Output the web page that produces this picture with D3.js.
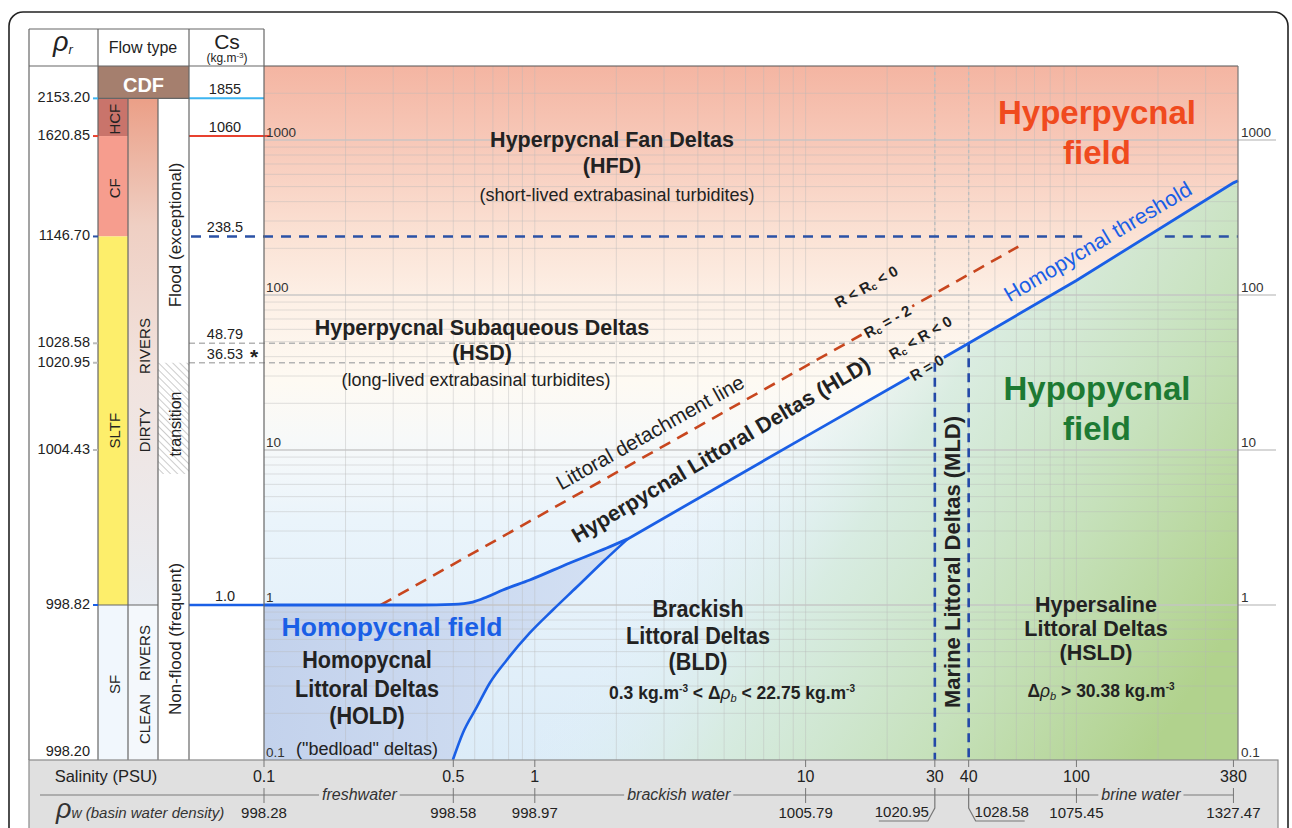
<!DOCTYPE html>
<html>
<head>
<meta charset="utf-8">
<title>Delta classification diagram</title>
<script src="https://cdn.jsdelivr.net/npm/d3@7/dist/d3.min.js"></script>
<style>
html,body{margin:0;padding:0;background:#fff;}
svg{display:block;font-family:"Liberation Sans",Arial,Helvetica,sans-serif;}
</style>
</head>
<body>
<svg id="chart" width="1292" height="828"></svg>
<script>
// ---------------- data ----------------
const salinityTicks = [0.1, 0.5, 1, 10, 30, 40, 100, 380];
const salinityLabels = ["0.1", "0.5", "1", "10", "30", "40", "100", "380"];
const basinDensityLabels = ["998.28", "998.58", "998.97", "1005.79", "1020.95", "1028.58", "1075.45", "1327.47"];
const waterTypeNames = ["freshwater", "brackish water", "brine water"];
const waterTypeSalinity = [0.225, 3.4, 173];

const csTicks = [0.1, 1, 10, 100, 1000];
const csTickLabels = ["0.1", "1", "10", "100", "1000"];
const csMarks = [1855, 1060, 238.5, 48.79, 36.53, 1.0];
const csMarkLabels = ["1855", "1060", "238.5", "48.79", "36.53", "1.0"];
const rhoRiverCs = [1855, 1060, 238.5, 48.79, 36.53, 10, 1, 0.1];
const rhoRiverLabels = ["2153.20", "1620.85", "1146.70", "1028.58", "1020.95", "1004.43", "998.82", "998.20"];

const flowNames = ["CDF", "HCF", "CF", "SLTF", "SF"];
const flowTop = [3000, 1855, 1060, 238.5, 1];
const flowBottom = [1855, 1060, 238.5, 1, 0.1];
const riverTop = [1855, 1];
const riverBottom = [1, 0.1];
const transitionCs = [36.53, 7];

// homopycnal threshold (salinity PSU, Cs kg/m3)
const thresholdS = [0.1, 0.376, 0.498, 0.59, 0.665, 0.762, 0.958, 1.346, 1.844, 2.204, 10, 30, 40, 100, 380, 395];
const thresholdCs = [1.0, 1.0, 1.01, 1.045, 1.126, 1.25, 1.45, 1.866, 2.33, 2.67, 12.19, 36.53, 48.79, 124.1, 528.8, 545];
// lower limit of the homopycnal littoral deltas field
const holdLowerS = [0.498, 0.542, 0.611, 0.682, 0.788, 0.958, 1.165, 1.429, 1.782, 2.204];
const holdLowerCs = [0.1, 0.149, 0.22, 0.314, 0.442, 0.66, 0.928, 1.306, 1.894, 2.67];
// littoral detachment line
const detachS = [0.27, 61];
const detachCs = [1, 205];
// marine littoral deltas limits
const mldS = [30, 40];
const mldCs = [36.53, 48.79];
const hfdLimitGapS = [105, 212];

// ---------------- layout ----------------
const X0 = 264, X1 = 1238, Y0 = 66, Y1 = 760;
const TL = 29, TT = 29, C1 = 98, C2 = 128, C3 = 158, C4 = 189, BR = 1278;
const FONT_COLOR = "#222";
const SMAX = 395;

const svg = d3.select("#chart");
const defs = svg.append("defs");
const x = d3.scaleLog().domain([0.1, SMAX]).range([X0, X1]);
const y = d3.scaleLog().domain([0.1, 3000]).range([Y1, Y0]);

function grad(id, a, stops) {
  const g = defs.append("linearGradient").attr("id", id).attr("gradientUnits", "userSpaceOnUse");
  Object.entries(a).forEach(([k, v]) => g.attr(k, v));
  stops.forEach(s => g.append("stop").attr("offset", s[0]).attr("stop-color", s[1]).attr("stop-opacity", s[2] == null ? 1 : s[2]));
}
const fy = v => (v - Y0) / (Y1 - Y0);
grad("bgV", {x1: 0, y1: Y0, x2: 0, y2: Y1}, [
  [0, "#f4b5a2"], [fy(140), "#f7c8b8"], [fy(240), "#fbe3d6"], [fy(300), "#fdf0e6"],
  [fy(380), "#fefaf3"], [fy(440), "#f7f9f9"], [fy(520), "#eaf4fb"], [1, "#dcecf8"]]);
grad("gGreen", {x1: 800, y1: 330, x2: 1238, y2: 620}, [
  [0, "#e2f1fa", 0], [0.3, "#d6ebdf", 0.9], [0.65, "#c6e1bb", 1], [1, "#b1d28d", 1]]);
grad("gHold", {x1: 264, y1: 0, x2: 640, y2: 0}, [[0, "#c3d2ec"], [1, "#d4e1f4"]]);
grad("gRiver", {x1: 0, y1: y(1855), x2: 0, y2: y(1)}, [
  [0, "#eb9f87"], [0.25, "#efcfc3"], [0.55, "#f1e3de"], [1, "#e9edf3"]]);

const hatch = defs.append("pattern").attr("id", "hatch").attr("patternUnits", "userSpaceOnUse")
  .attr("width", 5).attr("height", 5).attr("patternTransform", "rotate(-45)");
hatch.append("line").attr("x1", 0).attr("y1", 0).attr("x2", 0).attr("y2", 5).attr("stroke", "#9a9a9a").attr("stroke-width", 1);

const angThr = Math.atan2(y(528.8) - y(12.19), x(380) - x(10)) * 180 / Math.PI;
const angDet = Math.atan2(y(detachCs[1]) - y(detachCs[0]), x(detachS[1]) - x(detachS[0])) * 180 / Math.PI;

function gapMask(id, cx, cy, w, h, ang) {
  const m = defs.append("mask").attr("id", id).attr("maskUnits", "userSpaceOnUse")
    .attr("x", 0).attr("y", 0).attr("width", 1292).attr("height", 828);
  m.append("rect").attr("width", 1292).attr("height", 828).attr("fill", "#fff");
  m.append("rect").attr("x", -w / 2).attr("y", -h / 2).attr("width", w).attr("height", h)
    .attr("fill", "#000").attr("transform", `translate(${cx},${cy}) rotate(${ang})`);
}
const rZero = [x(28), y(34)];
const rcLab = [x(20), y(68)];
gapMask("mThr", rZero[0], rZero[1], 40, 18, angThr);
gapMask("mDet", rcLab[0], rcLab[1], 58, 18, angDet);

// ---------------- plot background ----------------
svg.append("rect").attr("x", X0).attr("y", Y0).attr("width", X1 - X0).attr("height", Y1 - Y0).attr("fill", "url(#bgV)");

const lineMono = d3.line().x(d => x(d[0])).y(d => y(d[1])).curve(d3.curveMonotoneX);
const lineLin = d3.line().x(d => x(d[0])).y(d => y(d[1]));
const thrPts = thresholdS.map((s, i) => [s, thresholdCs[i]]);
const lowPts = holdLowerS.map((s, i) => [s, holdLowerCs[i]]);
const pathCurve = lineMono(thrPts.slice(0, 10));
const thrPath = pathCurve + lineLin(thrPts.slice(9)).replace(/^M/, "L");
const lowPath = lineMono(lowPts);

svg.append("path").attr("d", thrPath + `L${X1},${Y1}L${X0},${Y1}Z`).attr("fill", "url(#gGreen)");
svg.append("path").attr("d", pathCurve + lineMono(lowPts.slice().reverse()).replace(/^M/, "L") + `L${x(0.1)},${y(0.1)}Z`)
  .attr("fill", "url(#gHold)");

// ---------------- grid ----------------
const grid = svg.append("g");
x.ticks().filter(v => v > 0.1 && v < 380).forEach(v => {
  grid.append("line").attr("x1", x(v)).attr("x2", x(v)).attr("y1", Y0).attr("y2", Y1)
    .attr("stroke", "#b8b8b8").attr("stroke-opacity", 0.45).attr("stroke-width", 0.9);
});
y.ticks().filter(v => v > 0.1 && v < 3000).forEach(v => {
  const major = csTicks.includes(v);
  grid.append("line").attr("x1", X0).attr("x2", major ? BR - 2 : X1).attr("y1", y(v)).attr("y2", y(v))
    .attr("stroke", major ? "#c4c4c4" : "#b8b8b8").attr("stroke-opacity", major ? 0.9 : 0.45)
    .attr("stroke-width", major ? 1.6 : 0.9);
});

// ---------------- reference lines ----------------
const lines = svg.append("g");
mldS.forEach((s, i) => {
  lines.append("line").attr("x1", C4).attr("x2", x(s)).attr("y1", y(mldCs[i])).attr("y2", y(mldCs[i]))
    .attr("stroke", "#b4b4b4").attr("stroke-width", 1.6).attr("stroke-dasharray", "6,4");
  lines.append("line").attr("x1", x(s)).attr("x2", x(s)).attr("y1", Y0).attr("y2", y(mldCs[i]))
    .attr("stroke", "#bdbdbd").attr("stroke-width", 1.4).attr("stroke-dasharray", "3,3");
});
const markStyle = [
  {c: "#3db5f0", w: 2, d: null, end: X0},
  {c: "#e8412f", w: 2, d: null, end: X0 + 6},
  {c: null}, {c: null}, {c: null},
  {c: "#1a5fe6", w: 2.6, d: null, end: X0}];
csMarks.forEach((v, i) => {
  const st = markStyle[i];
  if (!st.c) return;
  lines.append("line").attr("x1", C4).attr("x2", st.end).attr("y1", y(v)).attr("y2", y(v))
    .attr("stroke", st.c).attr("stroke-width", st.w);
});
// HFD limit (238.5) dashed blue line with a gap for the label
[[C4 + 2, x(hfdLimitGapS[0])], [x(hfdLimitGapS[1]), X1]].forEach(seg => {
  lines.append("line").attr("x1", seg[0]).attr("x2", seg[1]).attr("y1", y(csMarks[2])).attr("y2", y(csMarks[2]))
    .attr("stroke", "#2b52a6").attr("stroke-width", 2.6).attr("stroke-dasharray", "10,8");
});
// littoral detachment line
lines.append("path").attr("d", lineLin(detachS.map((s, i) => [s, detachCs[i]])))
  .attr("fill", "none").attr("stroke", "#c8461e").attr("stroke-width", 2.6).attr("stroke-dasharray", "12,8")
  .attr("mask", "url(#mDet)");
// MLD verticals
mldS.forEach((s, i) => {
  lines.append("line").attr("x1", x(s)).attr("x2", x(s)).attr("y1", y(mldCs[i])).attr("y2", Y1)
    .attr("stroke", "#2349a8").attr("stroke-width", 2.6).attr("stroke-dasharray", "9,6");
});
// threshold and HOLD limit
lines.append("path").attr("d", lowPath).attr("fill", "none").attr("stroke", "#1a5fe6").attr("stroke-width", 2.6);
lines.append("path").attr("d", thrPath).attr("fill", "none").attr("stroke", "#1a5fe6").attr("stroke-width", 2.8)
  .attr("mask", "url(#mThr)");

// ---------------- text helper ----------------
function T(parent, px, py, str, o) {
  const d = Object.assign({size: 16, anchor: "middle", fill: FONT_COLOR, weight: "normal"}, o || {});
  const t = parent.append("text").attr("font-size", d.size).attr("text-anchor", d.anchor)
    .attr("fill", d.fill).attr("font-weight", d.weight);
  if (d.style) t.attr("font-style", d.style);
  if (d.ls) t.attr("letter-spacing", d.ls);
  if (d.baseline) t.attr("dominant-baseline", d.baseline);
  if (d.rotate != null || d.sx != null) {
    t.attr("x", 0).attr("y", 0)
      .attr("transform", `translate(${px},${py})` + (d.rotate != null ? ` rotate(${d.rotate})` : "") + (d.sx != null ? ` scale(${d.sx},1)` : ""));
  } else {
    t.attr("x", px).attr("y", py);
  }
  if (str) t.text(str);
  return t;
}
function sp(t, s, o) {
  const e = t.append("tspan").text(s);
  if (o) Object.entries(o).forEach(([k, v]) => e.attr(k, v));
  return e;
}

// ---------------- plot labels ----------------
const lab = svg.append("g");
csTicks.forEach((v, i) => {
  T(lab, X0 + 2, y(v) - 3, csTickLabels[i], {size: 13.5, anchor: "start", fill: "#333"});
  T(lab, X1 + 3, y(v) - 3, csTickLabels[i], {size: 13.5, anchor: "start", fill: "#333"});
});

T(lab, 612, 147, "Hyperpycnal Fan Deltas", {size: 21.5, weight: "bold"});
T(lab, 612, 173, "(HFD)", {size: 21.5, weight: "bold"});
T(lab, 617, 201, "(short-lived extrabasinal turbidites)", {size: 18});

T(lab, 1097, 124, "Hyperpycnal", {size: 33, weight: "bold", fill: "#f04a1e"});
T(lab, 1097, 164, "field", {size: 33, weight: "bold", fill: "#f04a1e"});

T(lab, 482, 335, "Hyperpycnal Subaqueous Deltas", {size: 21.5, weight: "bold"});
T(lab, 482, 360, "(HSD)", {size: 21.5, weight: "bold"});
T(lab, 476, 386, "(long-lived extrabasinal turbidites)", {size: 18});

T(lab, 650, 432, "Littoral detachment line", {size: 20.5, rotate: angDet, baseline: "central"});
T(lab, 721, 450, "Hyperpycnal Littoral Deltas (HLD)", {size: 21.5, weight: "bold", rotate: angThr, baseline: "central"});
T(lab, 1098, 242, "Homopycnal threshold", {size: 21.5, fill: "#1a5fe6", rotate: angThr, baseline: "central"});

let t = T(lab, 866, 286, null, {size: 15, weight: "bold", rotate: angDet, baseline: "central"});
sp(t, "R < R"); sp(t, "c", {"font-size": 10, dy: 4}); sp(t, " < 0", {dy: -4});
t = T(lab, rcLab[0], rcLab[1], null, {size: 15, weight: "bold", rotate: angDet, baseline: "central"});
sp(t, "R"); sp(t, "c", {"font-size": 10, dy: 4}); sp(t, " = - 2", {dy: -4});
t = T(lab, 920, 337, null, {size: 15, weight: "bold", rotate: angThr, baseline: "central"});
sp(t, "R"); sp(t, "c", {"font-size": 10, dy: 4}); sp(t, " < R < 0", {dy: -4});
T(lab, rZero[0], rZero[1], "R = 0", {size: 15, weight: "bold", rotate: angThr, baseline: "central"});

T(lab, 1097, 400, "Hypopycnal", {size: 33, weight: "bold", fill: "#1d7a33"});
T(lab, 1097, 440, "field", {size: 33, weight: "bold", fill: "#1d7a33"});

T(lab, 952, 562, "Marine Littoral Deltas (MLD)", {size: 22, weight: "bold", rotate: -90, baseline: "central"});

T(lab, 392, 636, "Homopycnal field", {size: 26.5, weight: "bold", fill: "#1a5fe6"});
T(lab, 367, 668, "Homopycnal", {size: 24, weight: "bold", sx: 0.9});
T(lab, 367, 697, "Littoral Deltas", {size: 24, weight: "bold", sx: 0.9});
T(lab, 367, 724, "(HOLD)", {size: 24, weight: "bold", sx: 0.9});
T(lab, 367, 755, "(\"bedload\" deltas)", {size: 18});

T(lab, 698, 617, "Brackish", {size: 24, weight: "bold", sx: 0.9});
T(lab, 698, 644, "Littoral Deltas", {size: 24, weight: "bold", sx: 0.9});
T(lab, 698, 670, "(BLD)", {size: 24, weight: "bold", sx: 0.9});
t = T(lab, 732, 699, null, {size: 17.5, weight: "bold"});
sp(t, "0.3 kg.m"); sp(t, "-3", {"font-size": 10, dy: -7}); sp(t, " < \u0394", {dy: 7});
sp(t, "\u03c1", {"font-style": "italic", "font-weight": "normal"}); sp(t, "b", {"font-size": 11, "font-style": "italic", "font-weight": "normal", dy: 3});
sp(t, " < 22.75 kg.m", {dy: -3}); sp(t, "-3", {"font-size": 10, dy: -7});

T(lab, 1096, 612, "Hypersaline", {size: 21.5, weight: "bold"});
T(lab, 1096, 636, "Littoral Deltas", {size: 21.5, weight: "bold"});
T(lab, 1096, 660, "(HSLD)", {size: 21.5, weight: "bold"});
t = T(lab, 1101, 697, null, {size: 17.5, weight: "bold"});
sp(t, "\u0394"); sp(t, "\u03c1", {"font-style": "italic", "font-weight": "normal"});
sp(t, "b", {"font-size": 11, "font-style": "italic", "font-weight": "normal", dy: 3});
sp(t, " > 30.38 kg.m", {dy: -3}); sp(t, "-3", {"font-size": 10, dy: -7});

// ---------------- plot frame ----------------
svg.append("line").attr("x1", X0).attr("x2", X1).attr("y1", Y0).attr("y2", Y0).attr("stroke", "#555").attr("stroke-width", 1.2);
svg.append("line").attr("x1", X1).attr("x2", X1).attr("y1", Y0).attr("y2", Y1).attr("stroke", "#777").attr("stroke-width", 1.2);

// ---------------- left table ----------------
const tb = svg.append("g");
const flowFill = ["#a57f6e", "#c9746b", "#f69d8e", "#fdee6b", "#f1f7fd"];
flowNames.forEach((n, i) => {
  const x1 = i === 0 ? C4 : C2;
  tb.append("rect").attr("x", C1).attr("y", y(flowTop[i])).attr("width", x1 - C1)
    .attr("height", y(flowBottom[i]) - y(flowTop[i])).attr("fill", flowFill[i]);
});
tb.append("rect").attr("x", C2).attr("y", y(riverTop[0])).attr("width", C3 - C2)
  .attr("height", y(riverBottom[0]) - y(riverTop[0])).attr("fill", "url(#gRiver)");
tb.append("rect").attr("x", C2).attr("y", y(riverTop[1])).attr("width", C3 - C2)
  .attr("height", y(riverBottom[1]) - y(riverTop[1])).attr("fill", "#f4f8fc");
tb.append("rect").attr("x", C3).attr("y", y(transitionCs[0])).attr("width", C4 - C3)
  .attr("height", y(transitionCs[1]) - y(transitionCs[0])).attr("fill", "url(#hatch)");

const tl = (x1, y1, x2, y2, c) => tb.append("line").attr("x1", x1).attr("y1", y1).attr("x2", x2).attr("y2", y2)
  .attr("stroke", c || "#666").attr("stroke-width", 1.2);
tl(TL, TT, X0, TT); tl(TL, Y0, X0, Y0);
tl(TL, TT, TL, Y1); tl(C1, TT, C1, Y1); tl(C4, TT, C4, Y1); tl(X0, TT, X0, Y1);
tl(C2, y(1855), C2, Y1); tl(C3, y(1855), C3, Y1); tl(C1, y(1855), C4, y(1855));
tl(C1, y(1), C3, y(1));

// header
t = T(tb, 53, 51, null, {size: 27, anchor: "start", style: "italic"});
sp(t, "\u03c1"); sp(t, "r", {"font-size": 13, dy: 3});
T(tb, 143, 53, "Flow type", {size: 16});
T(tb, 227, 49, "Cs", {size: 21});
t = T(tb, 227, 62, null, {size: 12});
sp(t, "(kg.m"); sp(t, "-3", {"font-size": 8, dy: -4}); sp(t, ")", {dy: 4});

T(tb, (C1 + C4) / 2, 92, "CDF", {size: 20, weight: "bold", fill: "#fff"});
flowNames.slice(1).forEach((n, k) => {
  const i = k + 1;
  T(tb, (C1 + C2) / 2 + 1, (y(flowTop[i]) + y(flowBottom[i])) / 2 + (i === 3 ? 10 : 2), n,
    {size: 15, rotate: -90, baseline: "central"});
});
T(tb, 144, 346, "RIVERS", {size: 15, rotate: -90, baseline: "central"});
T(tb, 144, 430, "DIRTY", {size: 15, rotate: -90, baseline: "central"});
T(tb, 144, 653, "RIVERS", {size: 15, rotate: -90, baseline: "central"});
T(tb, 144, 719, "CLEAN", {size: 15, rotate: -90, baseline: "central"});
T(tb, 175, 235, "Flood (exceptional)", {size: 17, rotate: -90, baseline: "central"});
T(tb, 175, 424, "transition", {size: 16, rotate: -90, baseline: "central"});
T(tb, 175, 639, "Non-flood (frequent)", {size: 17, rotate: -90, baseline: "central"});

const rhoTick = ["#3db5f0", "#e8412f", "#2b52a6", "#bbb", "#bbb", "#bbb", "#1a5fe6", null];
rhoRiverCs.forEach((v, i) => {
  T(tb, 90, y(v) + 4 - (i === 7 ? 8 : 0), rhoRiverLabels[i], {size: 14.5, anchor: "end"});
  if (rhoTick[i]) tb.append("line").attr("x1", 93).attr("x2", C1).attr("y1", y(v)).attr("y2", y(v))
    .attr("stroke", rhoTick[i]).attr("stroke-width", 2);
});
csMarks.forEach((v, i) => {
  T(tb, 225, y(v) - 4, csMarkLabels[i], {size: 14.5});
});
T(tb, 254, 364, "*", {size: 21, weight: "bold"});

// ---------------- bottom band ----------------
const bd = svg.append("g");
bd.append("rect").attr("x", TL).attr("y", Y1).attr("width", BR - TL).attr("height", 90)
  .attr("fill", "#e0e0e0").attr("stroke", "#8a8a8a").attr("stroke-width", 1.2);
T(bd, 106, 782, "Salinity (PSU)", {size: 16.5});
t = T(bd, 56, 818, null, {size: 15, anchor: "start", style: "italic", fill: "#333"});
sp(t, "\u03c1", {"font-size": 27}); sp(t, "w", {"font-size": 14}); sp(t, " (basin water density)");

const wtLabels = waterTypeNames.map((n, i) => T(bd, x(waterTypeSalinity[i]), 800, n, {size: 16, style: "italic", fill: "#333"}));
const gaps = wtLabels.map((el, i) => {
  const w = el.node().getComputedTextLength();
  const cx = x(waterTypeSalinity[i]);
  return [cx - w / 2 - 3, cx + w / 2 + 3];
});
let start = 40;
gaps.forEach(g => {
  bd.append("line").attr("x1", start).attr("x2", g[0]).attr("y1", 795).attr("y2", 795).attr("stroke", "#7a7a7a").attr("stroke-width", 1);
  start = g[1];
});
bd.append("line").attr("x1", start).attr("x2", x(380)).attr("y1", 795).attr("y2", 795).attr("stroke", "#7a7a7a").attr("stroke-width", 1);

salinityTicks.forEach((s, i) => {
  const px = x(s);
  bd.append("line").attr("x1", px).attr("x2", px).attr("y1", Y1).attr("y2", Y1 + 7).attr("stroke", "#777").attr("stroke-width", 1);
  T(bd, px, 782, salinityLabels[i], {size: 16});
  if (s === 30 || s === 40) {
    const dir = s === 30 ? -1 : 1;
    bd.append("path").attr("d", `M${px},788L${px},808L${px + dir * 7},821L${px + dir * 56},821`)
      .attr("fill", "none").attr("stroke", "#777").attr("stroke-width", 1.2);
    T(bd, px + dir * 33, 817, basinDensityLabels[i], {size: 15});
  } else {
    bd.append("line").attr("x1", px).attr("x2", px).attr("y1", 788).attr("y2", 803).attr("stroke", "#777").attr("stroke-width", 1);
    T(bd, px, 818, basinDensityLabels[i], {size: 15});
  }
});

// ---------------- outer frame ----------------
svg.append("rect").attr("x", 9).attr("y", 12).attr("width", 1279).attr("height", 860).attr("rx", 14)
  .attr("fill", "none").attr("stroke", "#222").attr("stroke-width", 1.6);
</script>
</body>
</html>
